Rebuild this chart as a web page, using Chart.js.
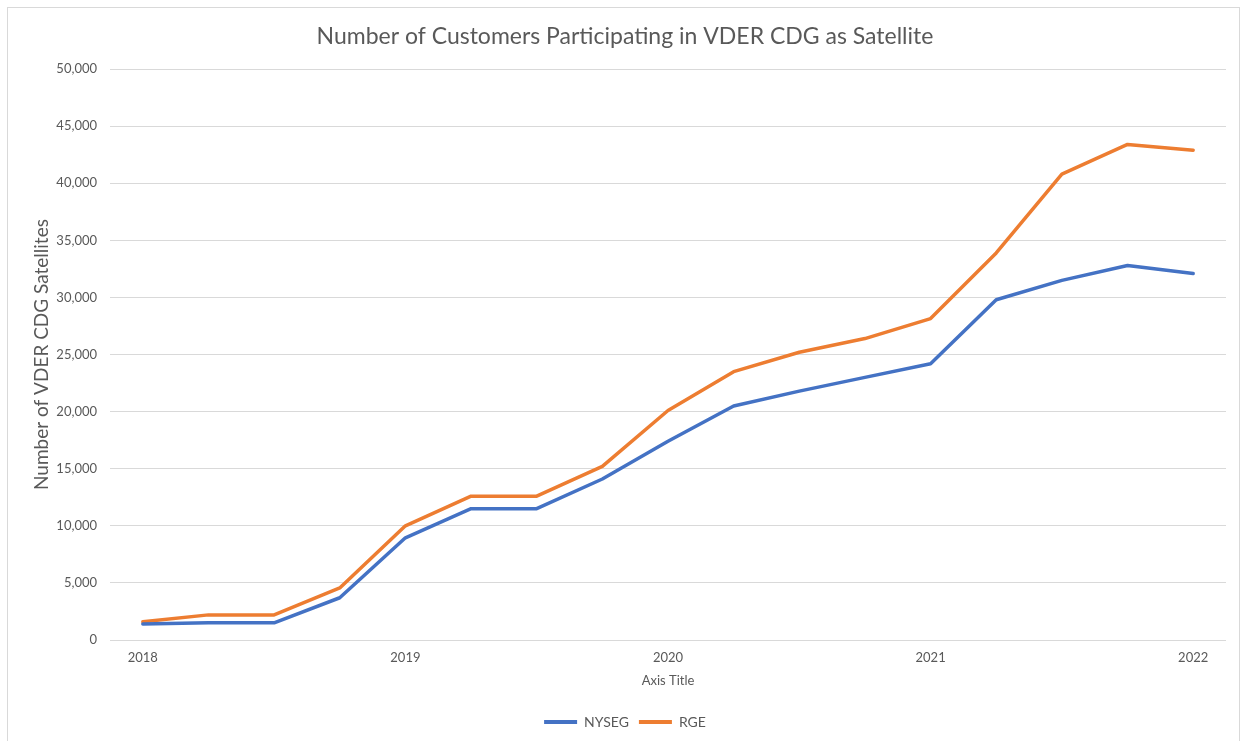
<!DOCTYPE html>
<html>
<head>
<meta charset="utf-8">
<script src="https://cdn.jsdelivr.net/npm/chart.js@4.4.1/dist/chart.umd.min.js"></script>
<style>
  html, body { margin: 0; padding: 0; background: #ffffff; }
  #wrap { position: absolute; left: 0; top: 0; width: 1243px; height: 741px; }
  #frame { position: absolute; left: 7px; top: 7px; width: 1231px; height: 760px; border: 1px solid #d9d9d9; pointer-events: none; }
</style>
</head>
<body>
<div id="wrap"><canvas id="c" width="1243" height="741"></canvas></div>
<div id="frame"></div>
<script>
const quarters = ['2018 Q1','2018 Q2','2018 Q3','2018 Q4','2019 Q1','2019 Q2','2019 Q3','2019 Q4','2020 Q1','2020 Q2','2020 Q3','2020 Q4','2021 Q1','2021 Q2','2021 Q3','2021 Q4','2022 Q1'];
const nyseg = [1400, 1500, 1500, 3700, 8950, 11500, 11500, 14100, 17400, 20500, 21800, 23000, 24200, 29800, 31500, 32800, 32100];
const rge = [1600, 2200, 2200, 4560, 10000, 12600, 12600, 15200, 20100, 23500, 25200, 26400, 28150, 33900, 40800, 43400, 42900];
const yTicks = [0, 5000, 10000, 15000, 20000, 25000, 30000, 35000, 40000, 45000, 50000];

const txt = '#595959';
const fam = 'Lato, "Open Sans", sans-serif';

new Chart(document.getElementById('c'), {
  type: 'line',
  data: {
    labels: quarters,
    datasets: [
      { label: 'NYSEG', data: nyseg, borderColor: '#4472C4', backgroundColor: '#4472C4', borderWidth: 3.5, pointRadius: 0, tension: 0, borderCapStyle: 'round', borderJoinStyle: 'round' },
      { label: 'RGE', data: rge, borderColor: '#ED7D31', backgroundColor: '#ED7D31', borderWidth: 3.5, pointRadius: 0, tension: 0, borderCapStyle: 'round', borderJoinStyle: 'round' }
    ]
  },
  options: {
    responsive: false,
    animation: false,
    layout: { padding: { left: 24, right: 17, top: 0, bottom: 2 } },
    plugins: {
      tooltip: { enabled: false },
      title: {
        display: true,
        text: 'Number of Customers Participating in VDER CDG as Satellite',
        color: txt,
        font: { family: fam, size: 23, weight: 'normal' },
        padding: { top: 23, bottom: 18.5 }
      },
      legend: {
        position: 'bottom',
        labels: {
          color: txt,
          font: { family: fam, size: 14 },
          boxWidth: 33,
          boxHeight: 4,
          padding: 10,
          generateLabels: (chart) => {
            const items = Chart.defaults.plugins.legend.labels.generateLabels(chart);
            items.forEach(it => { it.lineWidth = 0; it.strokeStyle = 'rgba(0,0,0,0)'; });
            return items;
          }
        }
      }
    },
    scales: {
      x: {
        type: 'category',
        offset: true,
        afterFit: (s) => { s.height = 65; },
        grid: { display: false, drawTicks: false },
        border: { display: false },
        ticks: {
          autoSkip: false,
          maxRotation: 0,
          color: txt,
          font: { family: fam, size: 13 },
          padding: 10,
          callback: function(v, i) { const l = quarters[i]; return l.endsWith('Q1') ? l.slice(0, 4) : ''; }
        },
        title: { display: true, text: 'Axis Title', color: txt, font: { family: fam, size: 13 }, padding: { top: 0, bottom: 16 } }
      },
      y: {
        min: 0,
        max: 50000,
        afterBuildTicks: (s) => { s.ticks = yTicks.map(v => ({ value: v })); },
        afterFit: (s) => { s.width = 86; },
        grid: { color: '#d9d9d9', lineWidth: 1, drawTicks: false },
        border: { display: false },
        ticks: {
          color: txt,
          font: { family: fam, size: 13 },
          padding: 13,
          callback: (v) => v.toLocaleString('en-US')
        },
        title: { display: true, text: 'Number of VDER CDG Satellites', color: txt, font: { family: fam, size: 19 }, padding: { top: 6, bottom: 0 } }
      }
    }
  }
});
</script>
</body>
</html>
